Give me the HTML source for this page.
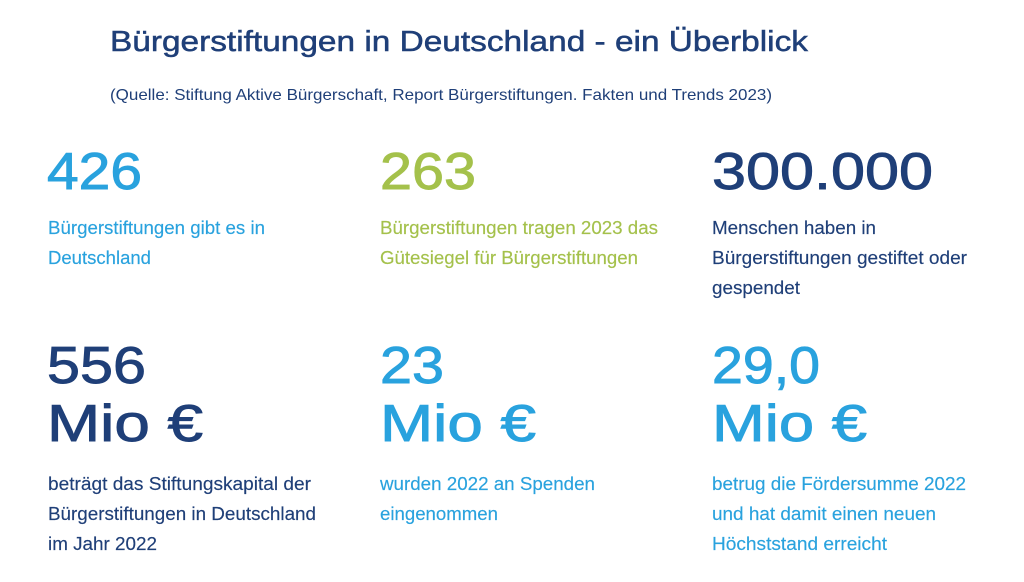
<!DOCTYPE html>
<html>
<head>
<meta charset="utf-8">
<style>
  html, body { margin: 0; padding: 0; background: #ffffff; }
  svg { display: block; }
  text { font-family: "Liberation Sans", "DejaVu Sans", sans-serif; }
  .t { font-size: 29px; fill: #1f3f78; stroke: #1f3f78; stroke-width: 0.5px; }
  .s { font-size: 16px; fill: #1f3f78; }
  .big { font-size: 52px; stroke-width: 0.9px; }
  .lb { font-size: 18px; }
  .blue { fill: #29a2de; stroke: #29a2de; }
  .green { fill: #a4c14b; stroke: #a4c14b; }
  .navy { fill: #1f3f78; stroke: #1f3f78; }
  .lb.blue, .lb.green, .lb.navy { stroke-width: 0.15px; }
</style>
</head>
<body>
<svg width="1024" height="582" viewBox="0 0 1024 582" xmlns="http://www.w3.org/2000/svg">
  <rect width="1024" height="582" fill="#ffffff"/>

  <text class="t" x="110" y="51" textLength="698" lengthAdjust="spacingAndGlyphs">Bürgerstiftungen in Deutschland - ein Überblick</text>
  <text class="s" x="110" y="100" textLength="662" lengthAdjust="spacingAndGlyphs">(Quelle: Stiftung Aktive Bürgerschaft, Report Bürgerstiftungen. Fakten und Trends 2023)</text>

  <!-- Row 1 -->
  <text class="big blue" x="47" y="189" textLength="95" lengthAdjust="spacingAndGlyphs">426</text>
  <text class="lb blue" x="48" y="234" textLength="217" lengthAdjust="spacingAndGlyphs">Bürgerstiftungen gibt es in</text>
  <text class="lb blue" x="48" y="264" textLength="103" lengthAdjust="spacingAndGlyphs">Deutschland</text>

  <text class="big green" x="380" y="189" textLength="96" lengthAdjust="spacingAndGlyphs">263</text>
  <text class="lb green" x="380" y="234" textLength="278" lengthAdjust="spacingAndGlyphs">Bürgerstiftungen tragen 2023 das</text>
  <text class="lb green" x="380" y="264" textLength="258" lengthAdjust="spacingAndGlyphs">Gütesiegel für Bürgerstiftungen</text>

  <text class="big navy" x="712" y="189" textLength="221" lengthAdjust="spacingAndGlyphs">300.000</text>
  <text class="lb navy" x="712" y="234" textLength="164" lengthAdjust="spacingAndGlyphs">Menschen haben in</text>
  <text class="lb navy" x="712" y="264" textLength="255" lengthAdjust="spacingAndGlyphs">Bürgerstiftungen gestiftet oder</text>
  <text class="lb navy" x="712" y="294" textLength="88" lengthAdjust="spacingAndGlyphs">gespendet</text>

  <!-- Row 2 -->
  <text class="big navy" x="47" y="383" textLength="99" lengthAdjust="spacingAndGlyphs">556</text>
  <text class="big navy" x="47" y="441" textLength="156" lengthAdjust="spacingAndGlyphs">Mio €</text>
  <text class="lb navy" x="48" y="490" textLength="263" lengthAdjust="spacingAndGlyphs">beträgt das Stiftungskapital der</text>
  <text class="lb navy" x="48" y="520" textLength="268" lengthAdjust="spacingAndGlyphs">Bürgerstiftungen in Deutschland</text>
  <text class="lb navy" x="48" y="550" textLength="109" lengthAdjust="spacingAndGlyphs">im Jahr 2022</text>

  <text class="big blue" x="380" y="383" textLength="64" lengthAdjust="spacingAndGlyphs">23</text>
  <text class="big blue" x="380" y="441" textLength="156" lengthAdjust="spacingAndGlyphs">Mio €</text>
  <text class="lb blue" x="380" y="490" textLength="215" lengthAdjust="spacingAndGlyphs">wurden 2022 an Spenden</text>
  <text class="lb blue" x="380" y="520" textLength="118" lengthAdjust="spacingAndGlyphs">eingenommen</text>

  <text class="big blue" x="712" y="383" textLength="108" lengthAdjust="spacingAndGlyphs">29,0</text>
  <text class="big blue" x="712" y="441" textLength="155" lengthAdjust="spacingAndGlyphs">Mio €</text>
  <text class="lb blue" x="712" y="490" textLength="254" lengthAdjust="spacingAndGlyphs">betrug die Fördersumme 2022</text>
  <text class="lb blue" x="712" y="520" textLength="224" lengthAdjust="spacingAndGlyphs">und hat damit einen neuen</text>
  <text class="lb blue" x="712" y="550" textLength="175" lengthAdjust="spacingAndGlyphs">Höchststand erreicht</text>
</svg>
</body>
</html>
